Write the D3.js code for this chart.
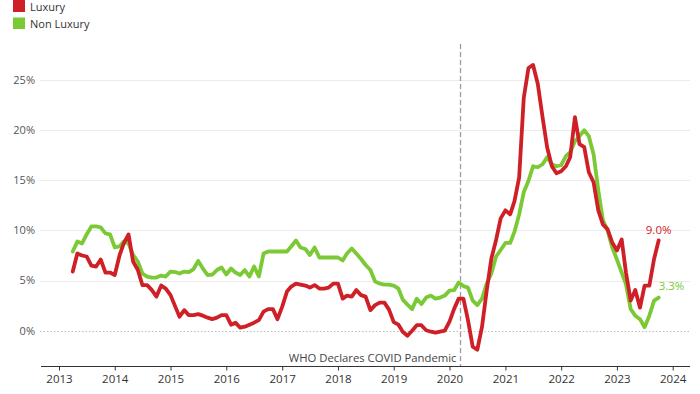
<!DOCTYPE html>
<html>
<head>
<meta charset="utf-8">
<script src="https://cdn.jsdelivr.net/npm/d3@7"></script>
<style>
  html, body { margin: 0; padding: 0; background: #fff; }
  svg { display: block; font-family: "Open Sans", "Noto Sans", sans-serif; }
</style>
</head>
<body>
<svg id="chart" width="700" height="394"></svg>
<script>
// ---- data (monthly, Apr 2013 – Oct 2023) ----
const startMonth = "2013-04";
const endMonth = "2023-10";
const seriesNames = ["Luxury", "Non Luxury"];
const luxury = [
  5.9, 7.7, 7.5, 7.4, 6.5, 6.4, 7.1, 5.8, 5.8, 5.55, 7.5, 8.7, 9.6, 6.9, 6.05, 4.55, 4.55, 4.05, 3.4, 4.5,
  4.2, 3.55, 2.4, 1.4, 2.05, 1.55, 1.55, 1.65, 1.5, 1.3, 1.15, 1.3, 1.55, 1.55, 0.6, 0.8, 0.3, 0.4, 0.6, 0.8,
  1.05, 1.9, 2.15, 2.15, 1.15, 2.4, 3.9, 4.4, 4.7, 4.6, 4.5, 4.3, 4.55, 4.2, 4.2, 4.3, 4.7, 4.7, 3.2, 3.5,
  3.4, 4.05, 3.55, 3.4, 2.05, 2.55, 2.8, 2.8, 2.1, 0.85, 0.6, -0.1, -0.5, 0.0, 0.55, 0.55, 0.05, -0.1, -0.2, -0.1,
  0.0, 0.9, 2.2, 3.2, 3.2, 1.05, -1.6, -1.9, 0.4, 4.05, 7.2, 9.05, 11.2, 12.0, 11.6, 12.9, 15.3, 23.2, 26.2, 26.5,
  24.6, 21.3, 18.3, 16.4, 15.7, 15.9, 16.4, 17.3, 21.3, 18.6, 18.3, 15.8, 14.8, 12.0, 10.6, 10.1, 8.8, 8.0, 9.1, 5.8,
  3.0, 4.05, 2.3, 4.5, 4.5, 7.15, 9.0
];
const nonLuxury = [
  7.9, 8.9, 8.7, 9.6, 10.4, 10.4, 10.3, 9.7, 9.6, 8.3, 8.4, 8.9, 8.7, 7.55, 6.9, 5.7, 5.4, 5.3, 5.3, 5.5,
  5.4, 5.9, 5.85, 5.7, 5.9, 5.85, 6.15, 6.95, 6.2, 5.55, 5.6, 6.05, 6.3, 5.6, 6.2, 5.8, 5.55, 6.05, 5.4, 6.4,
  5.4, 7.7, 7.9, 7.9, 7.9, 7.9, 7.9, 8.4, 9.0, 8.3, 8.15, 7.55, 8.3, 7.3, 7.3, 7.3, 7.3, 7.3, 7.0, 7.7,
  8.2, 7.7, 7.15, 6.55, 6.05, 4.9, 4.7, 4.6, 4.6, 4.5, 4.2, 3.1, 2.6, 2.15, 3.2, 2.65, 3.3, 3.5, 3.2, 3.3,
  3.5, 4.0, 4.05, 4.8, 4.45, 4.3, 3.0, 2.55, 3.2, 4.7, 5.7, 7.4, 8.05, 8.75, 8.75, 9.85, 11.6, 13.8, 14.95, 16.4,
  16.3, 16.6, 17.3, 16.6, 16.4, 16.5, 17.4, 17.8, 18.9, 19.4, 20.0, 19.4, 17.6, 14.0, 11.0, 10.0, 8.3, 7.1, 5.8, 4.65,
  2.15, 1.5, 1.15, 0.35, 1.5, 3.0, 3.3
];
const yTicks = [0, 5, 10, 15, 20, 25];
const xTickYears = [2013, 2014, 2015, 2016, 2017, 2018, 2019, 2020, 2021, 2022, 2023, 2024];
const eventDate = "2020-03-11";
const eventLabel = "WHO Declares COVID Pandemic";
const colors = { "Luxury": "#cf2027", "Non Luxury": "#7ac935" };

// ---- build ----
const parseMonth = d3.timeParse("%Y-%m");
const months = d3.timeMonth.range(parseMonth(startMonth), d3.timeMonth.offset(parseMonth(endMonth), 1));
const series = [
  { name: "Non Luxury", values: nonLuxury },
  { name: "Luxury", values: luxury }
];

const svg = d3.select("#chart");

const x = d3.scaleTime()
  .domain([new Date(2013, 0, 1), new Date(2024, 0, 1)])
  .range([59, 672.7]);
const y = d3.scaleLinear()
  .domain([0, 25])
  .range([330.7, 80]);

// gridlines
const grid = svg.append("g");
grid.selectAll("line")
  .data(yTicks)
  .join("line")
  .attr("x1", 40).attr("x2", 690)
  .attr("y1", d => Math.round(y(d)) + 0.5).attr("y2", d => Math.round(y(d)) + 0.5)
  .attr("stroke", d => d === 0 ? "#bdbdbd" : "#ebebeb")
  .attr("stroke-width", 1)
  .attr("stroke-dasharray", d => d === 0 ? "1.5,2" : null);

// y labels
svg.append("g").selectAll("text")
  .data(yTicks)
  .join("text")
  .attr("x", 35)
  .attr("y", d => y(d))
  .attr("dy", "0.35em")
  .attr("text-anchor", "end")
  .attr("font-size", 11)
  .attr("fill", "#555")
  .text(d => d + "%");

// x axis
const xAxis = d3.axisBottom(x)
  .tickValues(xTickYears.map(yr => new Date(yr, 0, 1)))
  .tickFormat(d3.timeFormat("%Y"))
  .tickSize(4)
  .tickSizeOuter(0);
const gx = svg.append("g")
  .attr("transform", "translate(0,366.5)")
  .call(xAxis);
gx.select(".domain").remove();
gx.append("line")
  .attr("x1", 41).attr("x2", 690)
  .attr("stroke", "#333").attr("stroke-width", 1.2);
gx.selectAll(".tick line").attr("stroke", "#333");
gx.selectAll(".tick text")
  .attr("font-family", "Open Sans, Noto Sans, sans-serif")
  .attr("font-size", 11.5)
  .attr("fill", "#333")
  .attr("y", 8);

// event line
const ex = Math.round(x(d3.timeParse("%Y-%m-%d")(eventDate))) + 0.5;
svg.append("line")
  .attr("x1", ex).attr("x2", ex)
  .attr("y1", 44).attr("y2", 366)
  .attr("stroke", "#9a9a9a")
  .attr("stroke-width", 1.3)
  .attr("stroke-dasharray", "5,3");
svg.append("text")
  .attr("x", ex - 4)
  .attr("y", 362)
  .attr("text-anchor", "end")
  .attr("font-size", 11.3)
  .attr("fill", "#444")
  .text(eventLabel);

// lines
const line = d3.line()
  .x((d, i) => x(months[i]))
  .y(d => y(d))
  .curve(d3.curveLinear);

svg.append("g").selectAll("path")
  .data(series)
  .join("path")
  .attr("d", d => line(d.values))
  .attr("fill", "none")
  .attr("stroke", d => colors[d.name])
  .attr("stroke-width", 3.8)
  .attr("stroke-linejoin", "round")
  .attr("stroke-linecap", "round");

// end labels
const lastIdx = months.length - 1;
svg.append("text")
  .attr("x", x(months[lastIdx]))
  .attr("y", y(luxury[lastIdx]) - 6)
  .attr("text-anchor", "middle")
  .attr("font-size", 11.5)
  .attr("fill", colors["Luxury"])
  .text(luxury[lastIdx].toFixed(1) + "%");
svg.append("text")
  .attr("x", x(months[lastIdx]) + 0)
  .attr("y", y(nonLuxury[lastIdx]) - 8)
  .attr("text-anchor", "start")
  .attr("font-size", 11.5)
  .attr("fill", colors["Non Luxury"])
  .text(nonLuxury[lastIdx].toFixed(1) + "%");

// legend
const legend = svg.append("g");
seriesNames.forEach((name, k) => {
  legend.append("rect")
    .attr("x", 13).attr("y", k * 17.5)
    .attr("width", 12).attr("height", k === 0 ? 12 : 11.5)
    .attr("fill", colors[name]);
  legend.append("text")
    .attr("x", 30).attr("y", k * 17.5 + 7)
    .attr("dy", "0.35em")
    .attr("font-size", 11)
    .attr("fill", "#333")
    .text(name);
});
</script>
</body>
</html>
